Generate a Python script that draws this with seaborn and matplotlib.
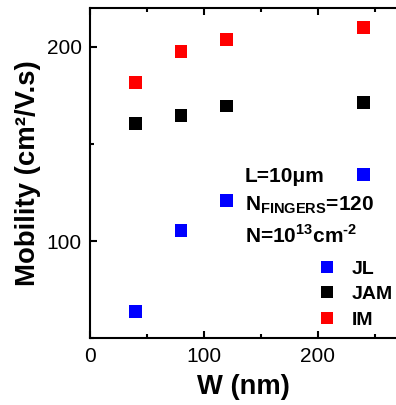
import pandas as pd
import matplotlib
matplotlib.use("Agg")
import matplotlib.pyplot as plt
import seaborn as sns
from matplotlib.ticker import MultipleLocator

# --- data ---
widths = [40, 80, 120, 240]
mob_jl = [63.6, 105.5, 121, 134.4]
mob_jam = [160.7, 164.8, 169.6, 171.5]
mob_im = [181.6, 197.6, 204, 210]
series_names = ["JL", "JAM", "IM"]
series_colors = ["#0000ff", "#000000", "#ff0000"]

df = pd.DataFrame({
    "W": widths * 3,
    "mobility": mob_jl + mob_jam + mob_im,
    "device": [n for n in series_names for _ in widths],
})

sns.set_style("ticks")
plt.rcParams["font.family"] = ["Liberation Sans", "DejaVu Sans"]
plt.rcParams["mathtext.fontset"] = "custom"
plt.rcParams["mathtext.rm"] = "Liberation Sans:bold"
plt.rcParams["mathtext.bf"] = "Liberation Sans:bold"
# 文字・軸は黒
for key in ["text.color", "axes.labelcolor", "axes.edgecolor", "xtick.color", "ytick.color"]:
    plt.rcParams[key] = "black"

fig = plt.figure(figsize=(3.96, 4.05), dpi=100)
ax = fig.add_axes([0.227, 0.165, 0.777, 0.815])

sns.scatterplot(data=df, x="W", y="mobility", hue="device", hue_order=series_names,
                palette=series_colors, marker="s", s=85, linewidth=0, ax=ax)

ax.set_xlim(0, 270)
ax.set_ylim(50, 220)
ax.xaxis.set_major_locator(MultipleLocator(100))
ax.xaxis.set_minor_locator(MultipleLocator(50))
ax.yaxis.set_major_locator(MultipleLocator(100))
ax.yaxis.set_minor_locator(MultipleLocator(50))
ax.tick_params(which="both", direction="in", top=True, width=1.5, labelsize=15, pad=6)
ax.tick_params(which="major", length=5)
ax.tick_params(which="minor", length=3)
for sp in ax.spines.values():
    sp.set_linewidth(1.5)

ax.set_xlabel("W (nm)", fontsize=19.7, fontweight="bold", labelpad=6)
ax.set_ylabel("Mobility (cm²/V.s)", fontsize=19.8, fontweight="bold", labelpad=4)

# annotations
ax.text(0.504, 0.4727, "L=10μm", transform=ax.transAxes, fontsize=15, fontweight="bold",
        va="baseline")
ax.text(0.504, 0.3879, r"N$_{\mathrm{FINGERS}}$=120", transform=ax.transAxes, fontsize=15,
        fontweight="bold", va="baseline")
ax.text(0.504, 0.2879, r"N=10$^{\mathrm{13}}$cm$^{\text{-2}}$", transform=ax.transAxes, fontsize=15,
        fontweight="bold", va="baseline")

ax.legend(loc="lower right", bbox_to_anchor=(1.0, 0.0145), frameon=False,
          prop={"weight": "bold", "size": 14}, handletextpad=0.25, labelspacing=0.4,
          borderpad=0.2, borderaxespad=0.05)

fig.savefig("out.png", dpi=100)
